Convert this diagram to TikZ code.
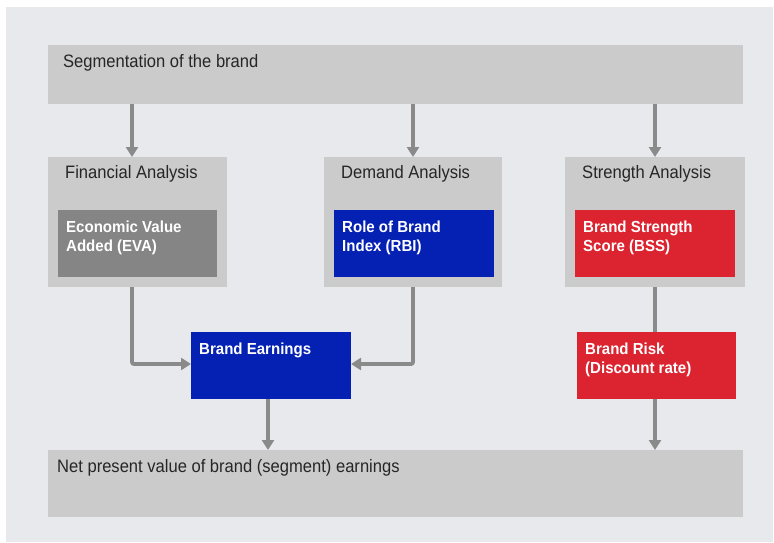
\documentclass[tikz,border=0pt]{standalone}
\usepackage{fontspec}
\setmainfont{Liberation Sans}[FakeStretch=0.92]
\newfontfamily\boldcond{Liberation Sans Bold}[FakeStretch=0.94]
\usetikzlibrary{arrows.meta,calc}
\definecolor{panel}{HTML}{E8E9ED}
\definecolor{boxgray}{HTML}{CBCBCB}
\definecolor{evagray}{HTML}{858585}
\definecolor{bblue}{HTML}{0421B4}
\definecolor{bred}{HTML}{DC2430}
\definecolor{linegray}{HTML}{8A8A8A}
\begin{document}
\begin{tikzpicture}[x=1pt,y=-1pt,
  box/.style={fill=boxgray,inner sep=0pt,anchor=north west,outer sep=0pt},
  inbox/.style={inner sep=0pt,anchor=north west,outer sep=0pt},
  lbl/.style={anchor=north west,inner sep=0pt,font=\fontsize{18}{21}\selectfont,text=black!85,align=left},
  wlbl/.style={anchor=north west,inner sep=0pt,font=\boldcond\fontsize{16}{19}\selectfont,text=white,align=left},
  conn/.style={draw=linegray,line width=3.8pt,-{Triangle[length=10pt,width=12pt]}},
  connplain/.style={draw=linegray,line width=3.8pt},
]
\useasboundingbox (0,0) rectangle (774,543);
\fill[white] (0,0) rectangle (774,543);
\fill[panel] (6,7) rectangle (773,542);

\node[box,minimum width=695pt,minimum height=59pt,
  label={[lbl,xshift=15pt,yshift=-9pt]north west:Segmentation of the brand}] (top) at (48,45) {};

\node[box,minimum width=179pt,minimum height=130pt,
  label={[lbl,xshift=17pt,yshift=-8pt]north west:Financial Analysis}] (fin) at (48,157) {};
\node[box,minimum width=178pt,minimum height=130pt,
  label={[lbl,xshift=17pt,yshift=-8pt]north west:Demand Analysis}] (dem) at (324,157) {};
\node[box,minimum width=180pt,minimum height=130pt,
  label={[lbl,xshift=17pt,yshift=-8pt]north west:Strength Analysis}] (str) at (565,157) {};

\node[inbox,fill=evagray,minimum width=159pt,minimum height=67pt,
  label={[wlbl,xshift=8pt,yshift=-11pt]north west:Economic Value\\Added (EVA)}] (eva) at (58,210) {};
\node[inbox,fill=bblue,minimum width=160pt,minimum height=67pt,
  label={[wlbl,xshift=8pt,yshift=-11pt]north west:Role of Brand\\Index (RBI)}] (rbi) at (334,210) {};
\node[inbox,fill=bred,minimum width=160pt,minimum height=67pt,
  label={[wlbl,xshift=8pt,yshift=-11pt]north west:Brand Strength\\Score (BSS)}] (bss) at (575,210) {};

\node[inbox,fill=bblue,minimum width=160pt,minimum height=67pt,
  label={[wlbl,xshift=8pt,yshift=-11pt]north west:Brand Earnings}] (earn) at (191,332) {};
\node[inbox,fill=bred,minimum width=159pt,minimum height=67pt,
  label={[wlbl,xshift=8pt,yshift=-11pt]north west:Brand Risk\\(Discount rate)}] (risk) at (577,332) {};

\node[box,minimum width=695pt,minimum height=67pt,
  label={[lbl,xshift=9pt,yshift=-9pt]north west:Net present value of brand (segment) earnings}] (npv) at (48,450) {};

\coordinate (xa) at (132,0);
\coordinate (xb) at (413,0);
\coordinate (xc) at (655,0);
\coordinate (xd) at (268,0);
\coordinate (yh) at (0,364);

\draw[conn] (xa |- top.south) -- (xa |- fin.north);
\draw[conn] (xb |- top.south) -- (xb |- dem.north);
\draw[conn] (xc |- top.south) -- (xc |- str.north);
\draw[conn,rounded corners=2pt] (xa |- fin.south) -- (xa |- yh) -- (earn.west |- yh);
\draw[conn,rounded corners=2pt] (xb |- dem.south) -- (xb |- yh) -- (earn.east |- yh);
\draw[conn] (xd |- earn.south) -- (xd |- npv.north);
\draw[connplain] (xc |- str.south) -- (xc |- risk.north);
\draw[conn] (xc |- risk.south) -- (xc |- npv.north);
\end{tikzpicture}
\end{document}
